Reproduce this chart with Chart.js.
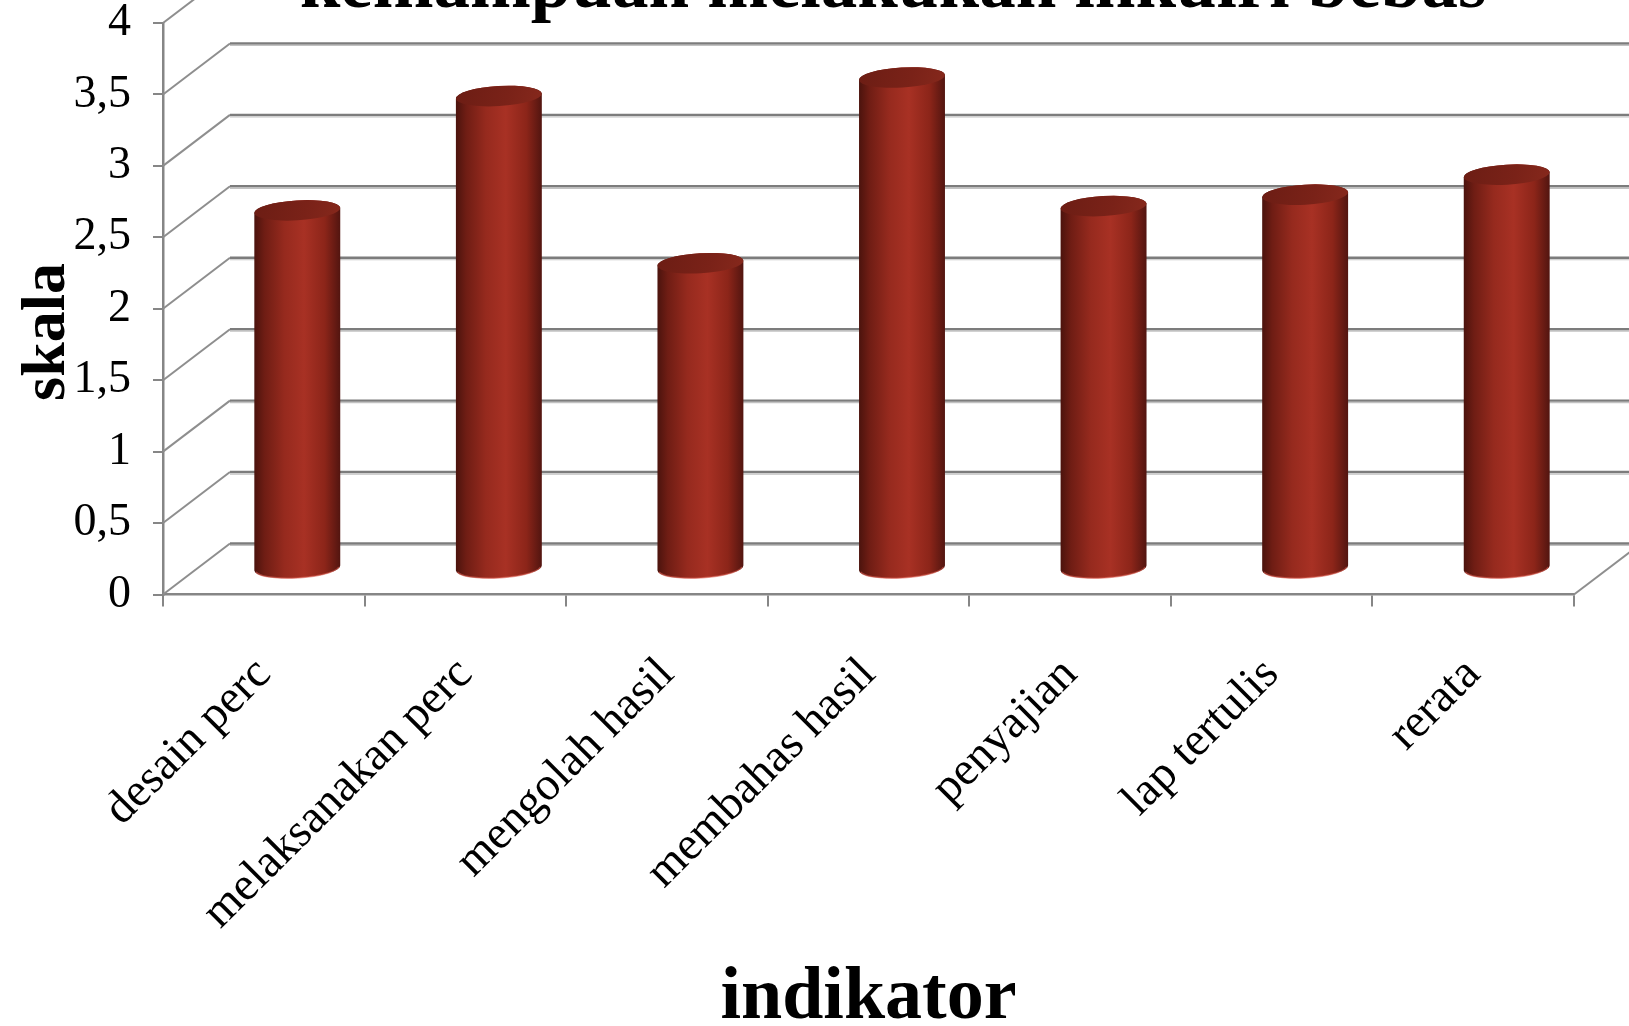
<!DOCTYPE html>
<html>
<head>
<meta charset="utf-8">
<title>kemampuan melakukan inkuiri bebas</title>
<script src="https://cdn.jsdelivr.net/npm/chart.js@4.4.0/dist/chart.umd.min.js"></script>
<style>
  html, body { margin: 0; padding: 0; background: #fff; overflow: hidden; }
  #wrap { width: 1629px; height: 1026px; }
  canvas { display: block; }
</style>
</head>
<body>
<div id="wrap"><canvas id="chart" width="1629" height="1026"></canvas></div>
<script>
const chartTitle = "kemampuan melakukan inkuiri bebas";
const xTitle = "indikator";
const yTitle = "skala";
const labels = ["desain perc", "melaksanakan perc", "mengolah hasil", "membahas hasil", "penyajian", "lap tertulis", "rerata"];
const values = [2.51, 3.31, 2.14, 3.44, 2.54, 2.62, 2.76];
const yTicks = [0, 0.5, 1, 1.5, 2, 2.5, 3, 3.5, 4];

// offset of the back wall relative to the front plane
const DEPTH_X = 67;
const DEPTH_Y = -51;
const GRID = "#868686";
const SERIF = "'Liberation Serif', 'Times New Roman', serif";

// side walls: diagonals from the front axis and the gridlines on the back wall
const wall3d = {
  id: "wall3d",
  beforeDatasetsDraw(chart) {
    const { ctx, chartArea: a, scales: { y } } = chart;
    ctx.save();
    yTicks.forEach(v => {
      const py = y.getPixelForValue(v);
      ctx.strokeStyle = "#8e8e8e";
      ctx.lineWidth = 2;
      ctx.beginPath();
      ctx.moveTo(a.left, py);
      ctx.lineTo(a.left + DEPTH_X, py + DEPTH_Y);
      ctx.stroke();

      ctx.strokeStyle = "#7c7c7c";
      ctx.lineWidth = 2.4;
      ctx.beginPath();
      ctx.moveTo(a.left + DEPTH_X, py + DEPTH_Y);
      ctx.lineTo(a.right + DEPTH_X, py + DEPTH_Y);
      ctx.stroke();
      ctx.strokeStyle = "#c2c2c2";
      ctx.lineWidth = 1.2;
      ctx.beginPath();
      ctx.moveTo(a.left + DEPTH_X, py + DEPTH_Y + 2);
      ctx.lineTo(a.right + DEPTH_X, py + DEPTH_Y + 2);
      ctx.stroke();
    });
    // right edge of the floor
    ctx.strokeStyle = "#8e8e8e";
    ctx.lineWidth = 2;
    ctx.beginPath();
    ctx.moveTo(a.right, a.bottom);
    ctx.lineTo(a.right + DEPTH_X, a.bottom + DEPTH_Y);
    ctx.stroke();
    ctx.restore();
  }
};

// draws each bar as a shaded cylinder standing in the middle of the box depth
const cylinders = {
  id: "cylinders",
  afterDatasetsDraw(chart) {
    const ctx = chart.ctx;
    const meta = chart.getDatasetMeta(0);
    meta.data.forEach(bar => {
      const { x, y, base, width } = bar.getProps(["x", "y", "base", "width"], true);
      const cx = x + DEPTH_X / 2;
      const top = y + DEPTH_Y / 2;
      const bottom = base + DEPTH_Y / 2;
      const rx = width / 2, ry = 10, tilt = -0.06;

      const body = ctx.createLinearGradient(cx - rx, 0, cx + rx, 0);
      body.addColorStop(0, "#4b130d");
      body.addColorStop(0.12, "#6f1d14");
      body.addColorStop(0.35, "#962a1e");
      body.addColorStop(0.58, "#a83124");
      body.addColorStop(0.82, "#8c2519");
      body.addColorStop(1, "#521510");

      ctx.save();
      ctx.beginPath();
      ctx.ellipse(cx, top, rx, ry, tilt, Math.PI, 2 * Math.PI);
      ctx.ellipse(cx, bottom, rx, ry, tilt, 0, Math.PI);
      ctx.closePath();
      ctx.fillStyle = body;
      ctx.fill();

      // light rim along the foot
      ctx.beginPath();
      ctx.ellipse(cx, bottom, rx - 1, ry, tilt, 0.15, Math.PI - 0.15);
      ctx.strokeStyle = "rgba(222, 96, 84, 0.55)";
      ctx.lineWidth = 1.5;
      ctx.stroke();

      const cap = ctx.createLinearGradient(cx - rx, top - ry, cx + rx, top + ry);
      cap.addColorStop(0, "#6c1d14");
      cap.addColorStop(0.6, "#7a2218");
      cap.addColorStop(1, "#86281c");
      ctx.beginPath();
      ctx.ellipse(cx, top, rx, ry, tilt, 0, 2 * Math.PI);
      ctx.fillStyle = cap;
      ctx.fill();
      ctx.restore();
    });
  }
};

// chart heading, sitting partly above the visible area
const topTitle = {
  id: "topTitle",
  afterDraw(chart) {
    const ctx = chart.ctx;
    ctx.save();
    ctx.font = "bold 73px " + SERIF;
    ctx.fillStyle = "#000";
    ctx.textAlign = "center";
    ctx.textBaseline = "alphabetic";
    ctx.fillText(chartTitle, 893, 7);
    ctx.restore();
  }
};

const ctx = document.getElementById("chart").getContext("2d");

new Chart(ctx, {
  type: "bar",
  data: {
    labels: labels,
    datasets: [{
      data: values,
      backgroundColor: "rgba(0,0,0,0)",
      borderWidth: 0,
      barPercentage: 0.427,
      categoryPercentage: 1
    }]
  },
  options: {
    responsive: false,
    animation: false,
    devicePixelRatio: 1,
    layout: { padding: { top: 23, right: 55, bottom: 0, left: 0 } },
    plugins: {
      legend: { display: false },
      tooltip: { enabled: false }
    },
    scales: {
      x: {
        grid: { offset: true, drawOnChartArea: false, color: GRID, lineWidth: 2, tickLength: 12 },
        border: { color: GRID, width: 2.5 },
        ticks: {
          color: "#000",
          font: { family: SERIF, size: 47, lineHeight: 1 },
          minRotation: 45,
          maxRotation: 45,
          autoSkip: false,
          padding: 44,
          labelOffset: 0
        },
        title: {
          display: true,
          text: xTitle,
          color: "#000",
          font: { family: SERIF, size: 74, weight: "bold", lineHeight: 1 },
          padding: { top: 0, bottom: -10 }
        },
        afterFit(scale) {
          scale.height = 431.5;
          scale.paddingLeft = 0;
          scale.paddingRight = 0;
        }
      },
      y: {
        min: 0,
        max: 4,
        afterBuildTicks(scale) {
          scale.ticks = yTicks.map(v => ({ value: v }));
        },
        grid: { drawOnChartArea: false, color: GRID, lineWidth: 2, tickLength: 10 },
        border: { color: GRID, width: 2.5 },
        ticks: {
          color: "#000",
          font: { family: SERIF, size: 46, lineHeight: 1 },
          padding: 22,
          callback: v => String(v).replace(".", ",")
        },
        title: {
          display: true,
          // trailing spaces nudge the centred word a little lower
          text: yTitle + "   ",
          color: "#000",
          font: { family: SERIF, size: 62, weight: "bold", lineHeight: 1 },
          padding: { top: 17, bottom: 0 }
        },
        afterFit(scale) {
          scale.width = 163;
          scale.paddingTop = 0;
          scale.paddingBottom = 0;
        }
      }
    }
  },
  plugins: [wall3d, cylinders, topTitle]
});
</script>
</body>
</html>
